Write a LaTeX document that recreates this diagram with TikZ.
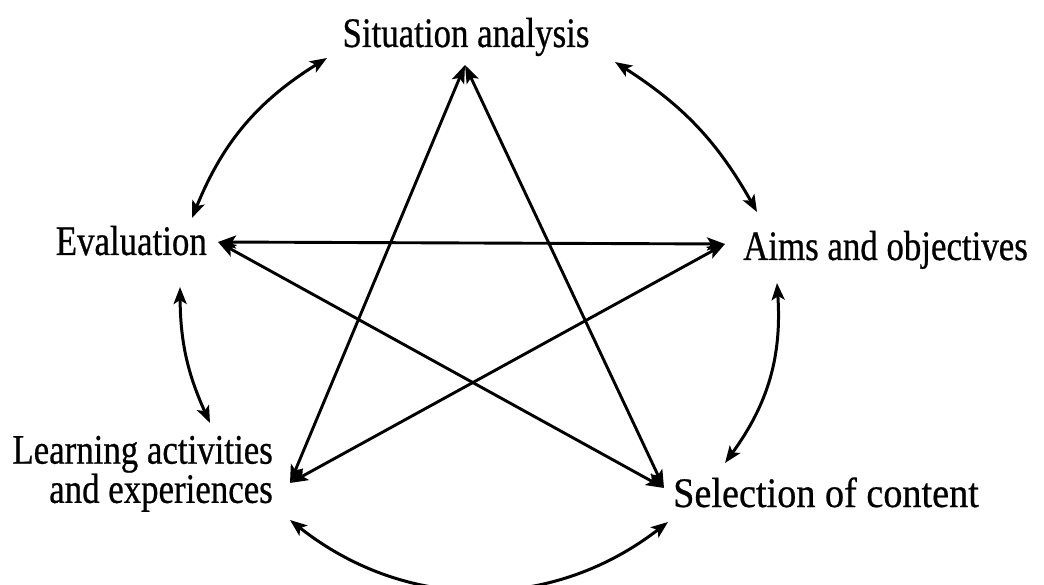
\documentclass[tikz,border=0pt]{standalone}
\usepackage{fontspec}
\setmainfont{Liberation Serif}[FakeStretch=0.83,FakeBold=0.6]
\newfontfamily\widerserif{Liberation Serif}[FakeStretch=0.91,FakeBold=0.6]
\usetikzlibrary{arrows.meta}
\begin{document}
\begin{tikzpicture}[x=1pt,y=-1pt,
  lbl/.style={inner sep=0pt, font=\fontsize{42}{36}\selectfont},
  star/.style={line width=2.9pt, {Stealth[length=18pt,width=13pt,inset=4pt]}-{Stealth[length=18pt,width=13pt,inset=4pt]}},
  cyc/.style={line width=3pt, {Stealth[length=17pt,width=13pt,inset=4pt]}-{Stealth[length=17pt,width=13pt,inset=4pt]}}]
\useasboundingbox (0,0) rectangle (1044,585);
% labels
\node[lbl, anchor=base] (sit) at (466,47) {Situation analysis};
\node[lbl, anchor=base east] (eval) at (207,255) {Evaluation};
\node[lbl, anchor=base west] (aims) at (743,260) {Aims and objectives};
\node[lbl, anchor=base west, font=\widerserif\fontsize{42}{36}\selectfont] (sel) at (673,507) {Selection of content};
\node[lbl, anchor=south east, align=right] (learn) at (273,512) {Learning activities\\and experiences};
% star vertices
\coordinate (pA) at (465,65);
\coordinate (pE) at (218,242);
\coordinate (pB) at (725,244);
\coordinate (pL) at (290,483);
\coordinate (pS) at (664,488);
\draw[star] (pA) -- (pL);
\draw[star] (pA) -- (pS);
\draw[star] (pE) -- (pB);
\draw[star] (pE) -- (pS);
\draw[star] (pB) -- (pL);
% cycle arrows
\coordinate (c1a) at (327,58);
\coordinate (c1b) at (192,218);
\coordinate (c2a) at (615,62);
\coordinate (c2b) at (757,212);
\coordinate (c3a) at (180,287);
\coordinate (c3b) at (210,423);
\coordinate (c4a) at (777,283);
\coordinate (c4b) at (725,463);
\coordinate (c5a) at (290,520);
\coordinate (c5b) at (668,522);
\draw[cyc] (c1a) to[bend right=18] (c1b);
\draw[cyc] (c2a) to[bend left=14] (c2b);
\draw[cyc] (c3a) to[bend right=12] (c3b);
\draw[cyc] (c4a) to[bend left=20] (c4b);
\draw[cyc] (c5a) to[bend right=38] (c5b);
\end{tikzpicture}
\end{document}
